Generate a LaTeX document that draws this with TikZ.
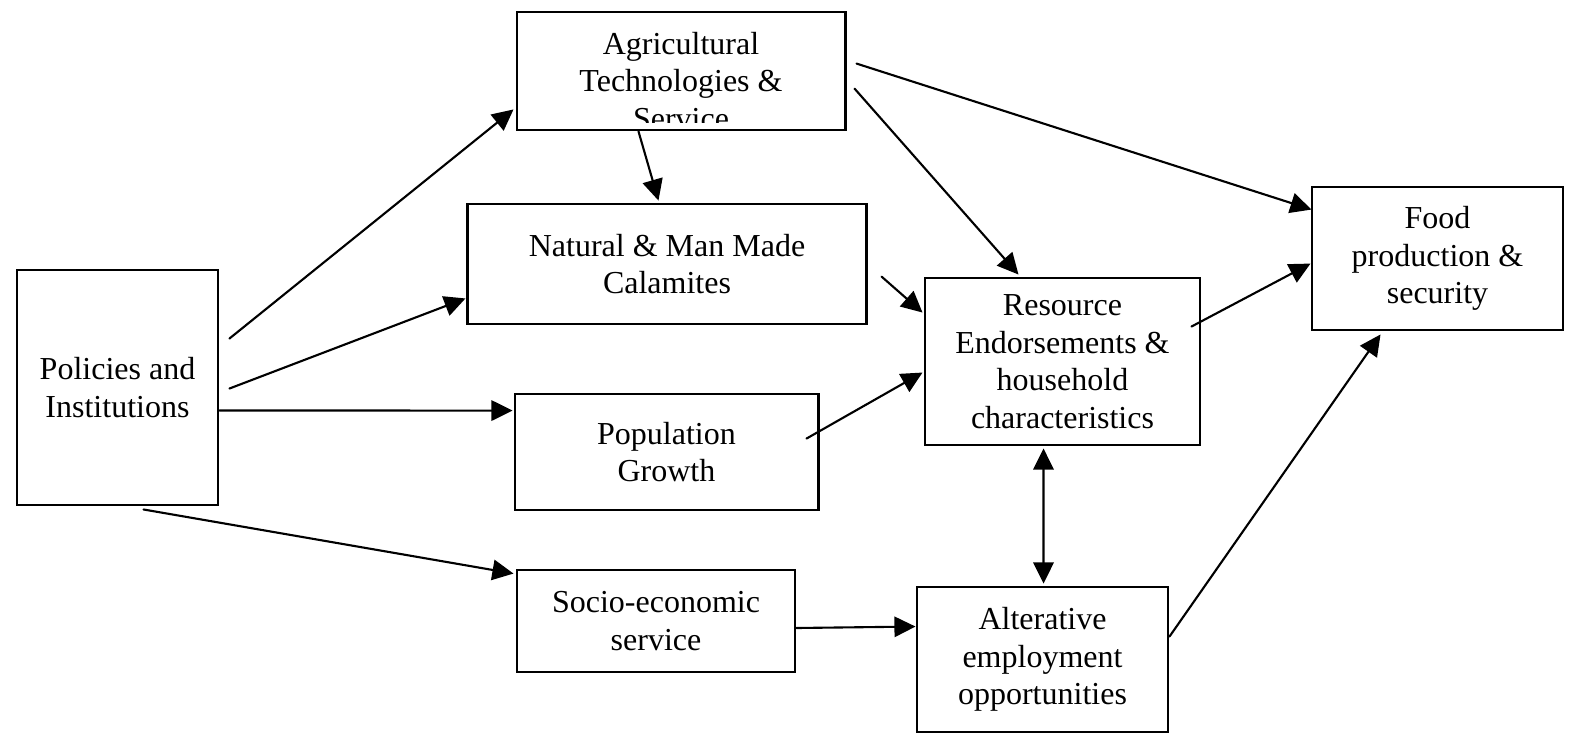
\documentclass[tikz,border=0pt]{standalone}
\usepackage{fontspec}
\setmainfont{Liberation Serif}
\usepackage{tikz}
\usetikzlibrary{arrows.meta, calc}
\tikzset{
  box/.style={draw, line width=0.8pt, align=center, inner sep=0pt, font=\fontsize{9.1}{10.7}\selectfont},
  arr/.style={line width=0.6pt, -{Triangle[length=6pt, width=5.8pt]}},
}

\begin{document}
\begin{tikzpicture}[x=0.01cm, y=-0.01cm, line cap=round]
  \useasboundingbox (0,0) rectangle (1569,733);

  \node[box, minimum width=2.01cm, minimum height=2.35cm] (pol) at (117.5,387.5) {Policies and\\Institutions};
  \node[box, minimum width=3.28cm, minimum height=1.18cm] (agr) at (681,71) {};
  \begin{scope}
    \clip ($(agr.north west)+(1,1)$) rectangle ($(agr.south east)+(-1,-9)$);
    \node[box, draw=none] at (681,81) {Agricultural\\Technologies \&\\Service};
  \end{scope}
  \node[box, minimum width=3.98cm, minimum height=1.2cm] (nat) at (667,264) {Natural \& Man Made\\Calamites};
  \node[box, minimum width=3.03cm, minimum height=1.16cm] (pop) at (666.5,452) {Population\\Growth};
  \node[box, minimum width=2.78cm, minimum height=1.02cm] (soc) at (656,621) {Socio-economic\\service};
  \node[box, minimum width=2.75cm, minimum height=1.67cm] (res) at (1062.5,361.5) {Resource\\Endorsements \&\\household\\characteristics};
  \node[box, minimum width=2.51cm, minimum height=1.45cm] (alt) at (1042.5,659.5) {Alterative\\employment\\opportunities};
  \node[box, minimum width=2.51cm, minimum height=1.43cm] (food) at (1437.5,258.5) {Food\\production \&\\security};

  \draw[arr] ($(pol.north east)+(10,70)$) -- ($(agr.south west)+(-2,-22)$);
  \draw[arr] ($(pol.north east)+(10,120)$) -- ($(nat.south west)+(-1,-27)$);
  \draw[arr] ($(pol.north east)+(0,142)$) -- ($(pop.north west)+(-1,18)$);
  \draw[arr] ($(pol.south west)+(128,3)$) -- ($(soc.north west)+(-2,5)$);
  \draw[arr] ($(agr.south west)+(123,0)$) -- ($(nat.north west)+(192,-2)$);
  \draw[arr] ($(agr.north east)+(10,53)$) -- ($(food.north west)+(1,24)$);
  \draw[arr] ($(agr.north east)+(8,78)$) -- ($(res.north west)+(95,-2)$);
  \draw[arr] ($(nat.north east)+(14,74)$) -- ($(res.north west)+(-1,36)$);
  \draw[arr] ($(pop.north east)+(-13,46)$) -- ($(res.north west)+(-1,96)$);
  \draw[arr] ($(res.north east)+(-10,50)$) -- ($(food.north west)+(0,78)$);
  \draw[arr, {Triangle[length=6pt, width=5.8pt]}-{Triangle[length=6pt, width=5.8pt]}] ($(res.south west)+(120,2)$) -- ($(alt.north west)+(128,-2)$);
  \draw[arr] ($(soc.east)+(0,7)$) -- ($(alt.north west)+(0,41)$);
  \draw[arr] ($(alt.north east)+(0,51)$) -- ($(food.south west)+(70,3)$);

\end{tikzpicture}
\end{document}
